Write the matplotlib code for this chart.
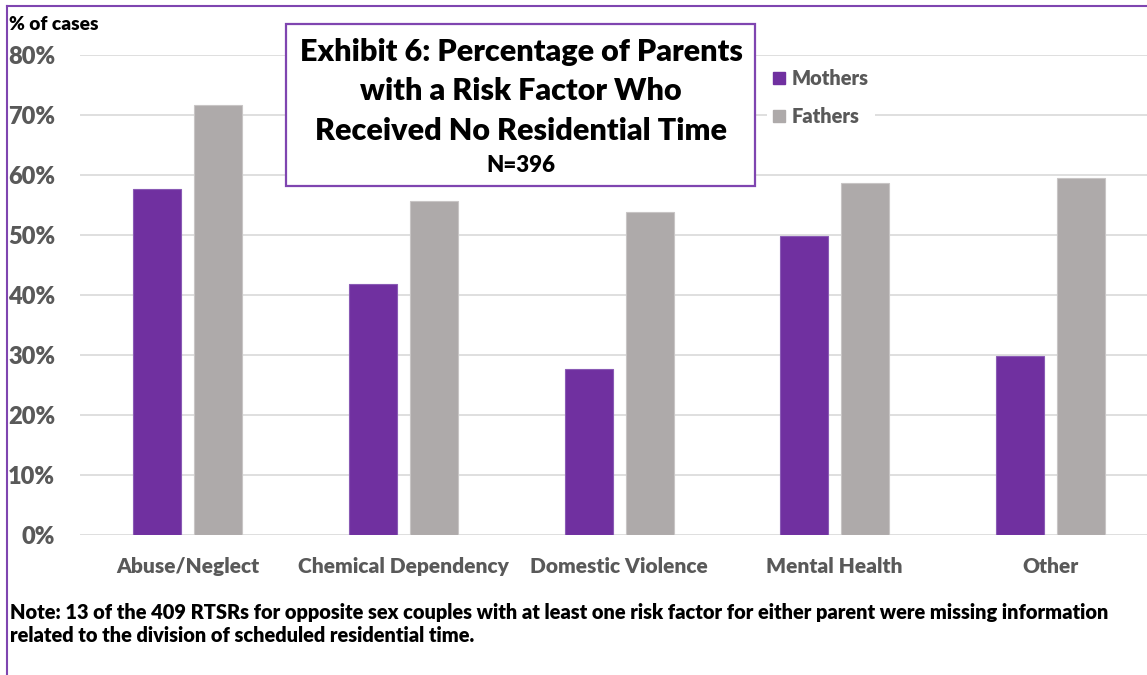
import matplotlib
matplotlib.use("Agg")
import matplotlib.pyplot as plt
from matplotlib.patches import Rectangle, Patch
from matplotlib.lines import Line2D
import numpy as np

categories = ["Abuse/Neglect", "Chemical Dependency", "Domestic Violence", "Mental Health", "Other"]
mothers = [57.6, 41.8, 27.7, 49.9, 29.9]
fathers = [71.6, 55.6, 53.9, 58.6, 59.5]
yticks = [0, 10, 20, 30, 40, 50, 60, 70, 80]
series_names = ["Mothers", "Fathers"]

PURPLE = "#7030A0"
GRAY = "#AEAAAA"
TICKGRAY = "#595959"
WT = 'heavy'

plt.rcParams['font.family'] = ['Lato', 'DejaVu Sans']
plt.rcParams['font.weight'] = WT

W, H = 1147, 675
fig = plt.figure(figsize=(W / 100, H / 100), dpi=100)

def fx(px):
    return px / W

def fy(py):
    return 1 - py / H

ax_left, ax_right, ax_top, ax_bot = 80, 1147, 55, 535
ax = fig.add_axes([fx(ax_left), fy(ax_bot), fx(ax_right - ax_left), (ax_bot - ax_top) / H])

spacing = 215.6
x = np.arange(len(categories))
bw = 48 / spacing
off = 30.5 / spacing
ax.bar(x - off, mothers, bw, color=PURPLE, edgecolor="#8A5BB5", linewidth=0.8, zorder=3)
ax.bar(x + off, fathers, bw, color=GRAY, edgecolor="#C8C5C5", linewidth=0.8, zorder=3)

ax.set_xlim(-0.5, -0.5 + (ax_right - ax_left) / spacing)
ax.set_ylim(0, 80)
ax.set_yticks(yticks)
ax.set_yticklabels([f"{v}%" for v in yticks])
ax.set_xticks(x)
ax.set_xticklabels(categories)
ax.grid(axis='y', color="#D9D9D9", linewidth=1.2, zorder=0)
ax.set_axisbelow(True)
for s in ax.spines.values():
    s.set_visible(False)
ax.tick_params(axis='y', length=0, pad=18, labelsize=17, labelcolor=TICKGRAY)
ax.tick_params(axis='x', length=0, pad=16, labelsize=15, labelcolor=TICKGRAY)
for lab in ax.get_yticklabels() + ax.get_xticklabels():
    lab.set_fontweight(WT)

# "% of cases"
fig.text(fx(9), fy(25), "% of cases", ha='left', va='center', fontsize=13.8,
         fontweight=WT, color='black')

# title box
rect = Rectangle((fx(286), fy(186)), fx(755 - 286), (186 - 24) / H, transform=fig.transFigure,
                 facecolor='white', edgecolor="#7F45B0", linewidth=1.6, zorder=2)
fig.patches.append(rect)
tcx = fx(521)
for txt, yy in [("Exhibit 6: Percentage of Parents", 52),
                ("with a Risk Factor Who", 91),
                ("Received No Residential Time", 131)]:
    fig.text(tcx, fy(yy), txt, ha='center', va='center',
             fontsize=22, fontweight=WT, color='black', zorder=3)
fig.text(tcx, fy(166), "N=396", ha='center', va='center',
         fontsize=16, fontweight=WT, color='black', zorder=3)

# legend
handles = [Patch(facecolor=PURPLE, edgecolor=PURPLE), Patch(facecolor=GRAY, edgecolor=GRAY)]
leg = fig.legend(handles, series_names, loc='upper left',
                 bbox_to_anchor=(fx(767), fy(63)), frameon=True, fontsize=14.4,
                 handlelength=0.6, handleheight=0.6, handletextpad=0.35,
                 labelspacing=0.95, borderpad=0.3, borderaxespad=0)
leg.get_frame().set_facecolor('white')
leg.get_frame().set_edgecolor('none')
leg.get_frame().set_alpha(1)
for t in leg.get_texts():
    t.set_color(TICKGRAY)
    t.set_fontweight(WT)
leg.set_zorder(4)

# note
fig.text(fx(10), fy(612), "Note: 13 of the 409 RTSRs for opposite sex couples with at least one risk factor for either parent were missing information",
         ha='left', va='center', fontsize=14.4, fontweight=WT, color='black')
fig.text(fx(10), fy(636), "related to the division of scheduled residential time.",
         ha='left', va='center', fontsize=14.4, fontweight=WT, color='black')

# outer border (left and top)
fig.lines.append(Line2D([fx(7), fx(7)], [0, fy(6)], transform=fig.transFigure, color="#7F45B0", linewidth=1.5))
fig.lines.append(Line2D([fx(7), 1], [fy(6), fy(6)], transform=fig.transFigure, color="#7F45B0", linewidth=1.5))

fig.savefig("out.png", dpi=100)
